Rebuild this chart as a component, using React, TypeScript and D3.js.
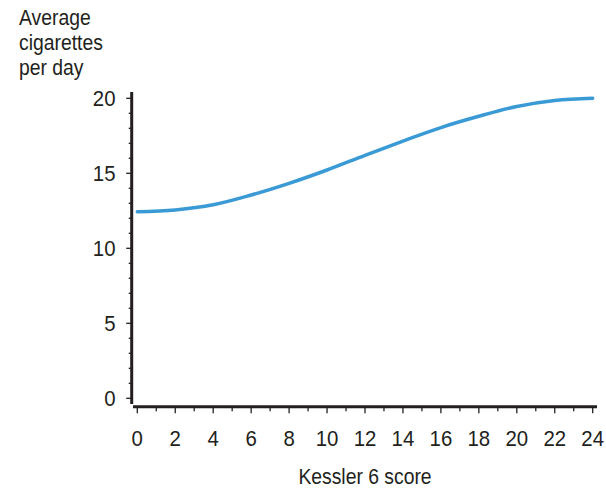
import React from "react";
import * as d3 from "d3";

const scores = [0, 2, 4, 6, 8, 10, 12, 14, 16, 18, 20, 22, 24];
const cigarettes = [12.44, 12.56, 12.9, 13.55, 14.33, 15.22, 16.2, 17.15, 18.05, 18.8, 19.45, 19.85, 20.0];
const xTickLabels = ["0", "2", "4", "6", "8", "10", "12", "14", "16", "18", "20", "22", "24"];
const yTickLabels = ["0", "5", "10", "15", "20"];
const yTitle = ["Average", "cigarettes", "per day"];
const xTitle = "Kessler 6 score";

const W = 606;
const H = 489;
const FONT = "'Liberation Sans', Arial, Helvetica, sans-serif";
const INK = "#231f20";
const LINE = "#3a9ad6";

export default function App() {
  const x = d3.scaleLinear().domain([0, 24]).range([137.3, 592.7]);
  const y = d3.scaleLinear().domain([0, 20]).range([398.3, 98.3]);
  const line = d3
    .line<number>()
    .x((_, i) => x(scores[i]))
    .y((d) => y(d))
    .curve(d3.curveCatmullRom.alpha(0.5));

  const xMinor = d3.range(0, 25, 1);
  const yMinor = d3.range(0, 21, 1);
  const axisX = 131.7;
  const axisY = 406.7;
  const sx = 0.9;

  return (
    <svg
      width={W}
      height={H}
      style={{ position: "absolute", left: 0, top: 0, background: "#fff" }}
      fontFamily={FONT}
    >
      {yTitle.map((t, i) => (
        <text
          key={t}
          transform={`translate(19,${25 + i * 25}) scale(${sx},1)`}
          fontSize={21.5}
          fill={INK}
        >
          {t}
        </text>
      ))}
      <line x1={axisX} x2={axisX} y1={92} y2={404} stroke={INK} strokeWidth={3} />
      {yMinor.map((v) => (
        <line
          key={"ym" + v}
          x1={axisX - (v % 5 === 0 ? 5.5 : 3)}
          x2={axisX}
          y1={y(v)}
          y2={y(v)}
          stroke={INK}
          strokeWidth={1.3}
        />
      ))}
      {yTickLabels.map((t) => (
        <text
          key={"yl" + t}
          transform={`translate(115.5,${y(+t) + 8}) scale(0.95,1)`}
          textAnchor="end"
          fontSize={21.5}
          fill={INK}
        >
          {t}
        </text>
      ))}
      <line x1={133} x2={597} y1={axisY} y2={axisY} stroke={INK} strokeWidth={3} />
      {xMinor.map((v) => (
        <line
          key={"xm" + v}
          x1={x(v)}
          x2={x(v)}
          y1={axisY}
          y2={axisY + (v % 2 === 0 ? 6.5 : 4.5)}
          stroke={INK}
          strokeWidth={1.3}
        />
      ))}
      {xTickLabels.map((t) => (
        <text
          key={"xl" + t}
          transform={`translate(${x(+t)},445.5) scale(0.95,1)`}
          textAnchor="middle"
          fontSize={21.5}
          fill={INK}
        >
          {t}
        </text>
      ))}
      <text
        transform={`translate(365,483.5) scale(${sx},1)`}
        textAnchor="middle"
        fontSize={21.5}
        fill={INK}
      >
        {xTitle}
      </text>
      <path
        d={line(cigarettes) || ""}
        fill="none"
        stroke={LINE}
        strokeWidth={3.5}
        strokeLinecap="round"
      />
    </svg>
  );
}
